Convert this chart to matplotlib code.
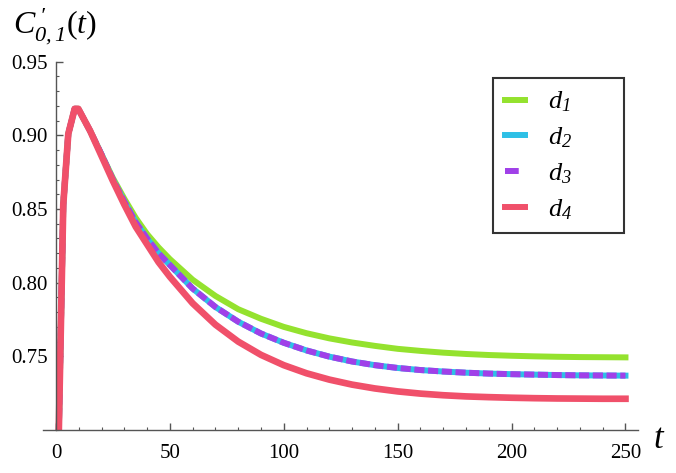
import matplotlib
matplotlib.use('Agg')
import matplotlib.pyplot as plt
import matplotlib.ticker as ticker

plt.rcParams['font.family'] = ['Liberation Serif', 'DejaVu Serif']
plt.rcParams['mathtext.fontset'] = 'custom'
# digits are taken from the rm font, so make it italic too; sf stays upright
plt.rcParams['mathtext.rm'] = 'Liberation Serif:italic'
plt.rcParams['mathtext.it'] = 'Liberation Serif:italic'
plt.rcParams['mathtext.sf'] = 'Liberation Serif'

# values
t_rise = [1.0, 1.5, 3.2, 5.4, 8.2, 9.8]
c_rise = [0.680, 0.720, 0.853, 0.901, 0.918, 0.918]

t_decay = [15, 20, 25, 30, 35, 40, 45, 50, 60, 70, 80, 90, 100, 110, 120, 130, 140,
           150, 160, 170, 180, 190, 200, 210, 220, 230, 240, 250]
c_d1 = [0.903, 0.887, 0.871, 0.857, 0.844, 0.833, 0.824, 0.816, 0.802, 0.791, 0.782, 0.7755,
        0.770, 0.7657, 0.7622, 0.7594, 0.7571, 0.7551, 0.7537, 0.7525, 0.7516,
        0.7509, 0.7504, 0.7500, 0.7497, 0.7495, 0.7494, 0.7493]
c_d2 = [0.903, 0.887, 0.870, 0.855, 0.841, 0.830, 0.820, 0.812, 0.796, 0.7835, 0.7735, 0.7655,
        0.7592, 0.7540, 0.7498, 0.7465, 0.7440, 0.7421, 0.7407, 0.7397, 0.7389,
        0.7383, 0.7379, 0.7376, 0.7373, 0.7371, 0.7370, 0.7369]
c_d3 = c_d2
c_d4 = [0.903, 0.886, 0.869, 0.853, 0.838, 0.826, 0.814, 0.804, 0.786, 0.7715, 0.7600, 0.7510,
        0.7440, 0.7385, 0.7342, 0.7308, 0.7282, 0.7262, 0.7247, 0.7236, 0.7228,
        0.7223, 0.7219, 0.7216, 0.7214, 0.7213, 0.7212, 0.7212]

labels = [r'$d_1$', r'$d_2$', r'$d_3$', r'$d_4$']

fig = plt.figure(figsize=(6.76, 4.73), dpi=100)
ax = fig.add_axes([43 / 676, 43 / 473, 595 / 676, 368.3 / 473])

lw = 4.3
ax.plot(t_rise + t_decay, c_rise + c_d1, color='#94e22e', lw=lw, label=labels[0])
ax.plot(t_rise + t_decay, c_rise + c_d2, color='#2ec0e6', lw=lw, label=labels[1])
ax.plot(t_rise + t_decay, c_rise + c_d3, color='#a040e8', lw=lw, dashes=(1.7, 0.6),
        label=labels[2])
ax.plot(t_rise + t_decay, c_rise + c_d4, color='#f0506a', lw=lw + 0.5, label=labels[3])

ax.set_xlim(-5.7, 255.5)
ax.set_ylim(0.70, 0.95)

for s in ['top', 'right']:
    ax.spines[s].set_visible(False)
ax.spines['left'].set_position(('data', 0))
for s in ['left', 'bottom']:
    ax.spines[s].set_color('#555555')
    ax.spines[s].set_linewidth(1.0)

ax.xaxis.set_major_locator(ticker.FixedLocator([0, 50, 100, 150, 200, 250]))
ax.xaxis.set_minor_locator(ticker.MultipleLocator(10))
ax.yaxis.set_major_locator(ticker.FixedLocator([0.75, 0.80, 0.85, 0.90, 0.95]))
ax.yaxis.set_minor_locator(ticker.MultipleLocator(0.01))
ax.yaxis.set_major_formatter(ticker.FormatStrFormatter('%.2f'))
ax.tick_params(which='both', direction='in', color='#555555', labelsize=15,
               labelcolor='black')
ax.tick_params(which='major', length=5, width=1.0)
ax.tick_params(which='minor', length=2.5, width=0.8)
ax.tick_params(axis='x', which='major', pad=10)
ax.tick_params(axis='y', which='major', pad=6)

fig.text(13 / 676, 1 - 34 / 473,
         r"$C_{0,1}^{\,\prime}\mathsf{(}t\mathsf{)}$",
         fontsize=23, va='baseline', ha='left')
fig.text(653 / 676, 1 - 448 / 473, r'$t$', fontsize=25, va='baseline', ha='left')

leg = ax.legend(loc='upper left', bbox_to_anchor=(493 / 676, 1 - 78 / 473, 131 / 676, 0.0),
                bbox_transform=fig.transFigure, mode='expand', borderaxespad=0,
                fontsize=19, handlelength=0.75, handletextpad=0.9, labelspacing=0.42,
                borderpad=0.45, fancybox=False, frameon=True)
leg.get_frame().set_edgecolor('black')
leg.get_frame().set_linewidth(1.5)
for h in leg.get_lines():
    h.set_linewidth(4.3)
# the d3 key shows one short dash only
leg.get_lines()[2].set_dashes((2.3, 5))

fig.savefig('out.png', dpi=100)
